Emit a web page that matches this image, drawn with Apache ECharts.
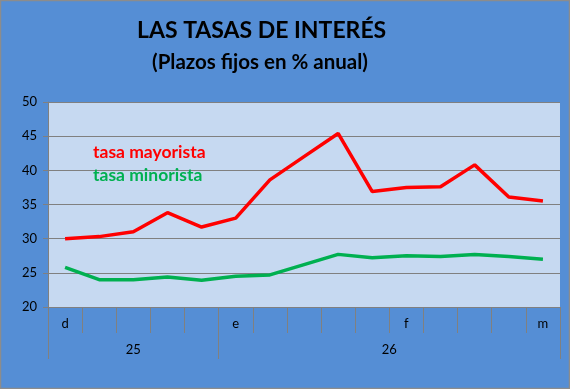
<!DOCTYPE html>
<html>
<head>
<meta charset="utf-8">
<script src="https://cdn.jsdelivr.net/npm/echarts@6/dist/echarts.min.js"></script>
<style>
html,body{margin:0;padding:0;background:#558ED5;}
#c{width:570px;height:389px;}
</style>
</head>
<body>
<div id="c"></div>
<script>
const categories = ['d','','','','','e','','','','','f','','','','m'];
const groupLabels = ['25','26'];
const groupTicks = [0,5,15];
const groupLabelPos = [2.5,10];
const mayorista = [30.0,30.3,31.0,33.8,31.7,33.0,38.6,42.0,45.4,36.9,37.5,37.6,40.8,36.1,35.5];
const minorista = [25.8,24.0,24.0,24.4,23.9,24.5,24.7,26.2,27.7,27.2,27.5,27.4,27.7,27.4,27.0];
const yTicks = {min:20,max:50,interval:5};

const FONT = 'Lato';
const chart = echarts.init(document.getElementById('c'), null, {renderer:'canvas'});
chart.setOption({
  backgroundColor:'#558ED5',
  animation:false,
  graphic:[
    {type:'text',left:137,top:19,style:{text:'LAS TASAS DE INTERÉS',fontFamily:FONT,fontWeight:'bold',fontSize:23,fill:'#000'},silent:true},
    {type:'text',left:152,top:52,style:{text:'(Plazos fijos en % anual)',fontFamily:FONT,fontWeight:'bold',fontSize:20.5,fill:'#000'},silent:true},
    {type:'rect',shape:{x:0.5,y:0.5,width:569,height:388},style:{fill:'none',stroke:'#8c8c8c',lineWidth:1.5},silent:true,z:100}
  ],
  legend:{
    orient:'vertical', left:83, top:138, itemGap:5,
    icon:'none', itemWidth:0, itemHeight:0,
    selectedMode:false,
    textStyle:{fontFamily:FONT,fontWeight:'bold',fontSize:17.5,padding:0},
    data:[
      {name:'tasa mayorista',textStyle:{color:'#FF0000'}},
      {name:'tasa minorista',textStyle:{color:'#00B050'}}
    ]
  },
  grid:{left:48,right:10,top:102,bottom:82,show:true,backgroundColor:'#C6D9F1',borderWidth:0,containLabel:false},
  xAxis:[
    {
      type:'category', data:categories, boundaryGap:true,
      axisLine:{show:true,lineStyle:{color:'#808080',width:1}},
      axisTick:{show:true,interval:0,length:26,lineStyle:{color:'#808080',width:1}},
      axisLabel:{interval:0,margin:10,color:'#000',fontFamily:FONT,fontSize:13},
      splitLine:{show:false}
    },
    {
      type:'value', min:0, max:15, position:'bottom',
      axisLine:{show:false},
      axisTick:{show:true,customValues:groupTicks,length:52,lineStyle:{color:'#808080',width:1}},
      axisLabel:{customValues:groupLabelPos,margin:36,color:'#000',fontFamily:FONT,fontSize:13,
        formatter:function(v){return v===groupLabelPos[0]?groupLabels[0]:groupLabels[1];}},
      splitLine:{show:false}
    }
  ],
  yAxis:{
    type:'value', min:yTicks.min, max:yTicks.max, interval:yTicks.interval,
    axisLine:{show:true,lineStyle:{color:'#808080'}},
    axisTick:{show:true,length:5,lineStyle:{color:'#808080'}},
    axisLabel:{margin:11,color:'#000',fontFamily:FONT,fontSize:13},
    splitLine:{show:true,lineStyle:{color:'#808080',width:1}}
  },
  series:[
    {name:'tasa mayorista',type:'line',data:mayorista,symbol:'none',xAxisIndex:0,
     lineStyle:{color:'#FF0000',width:3.5},itemStyle:{color:'#FF0000'}},
    {name:'tasa minorista',type:'line',data:minorista,symbol:'none',xAxisIndex:0,
     lineStyle:{color:'#00B050',width:3.5},itemStyle:{color:'#00B050'}}
  ]
});
</script>
</body>
</html>
